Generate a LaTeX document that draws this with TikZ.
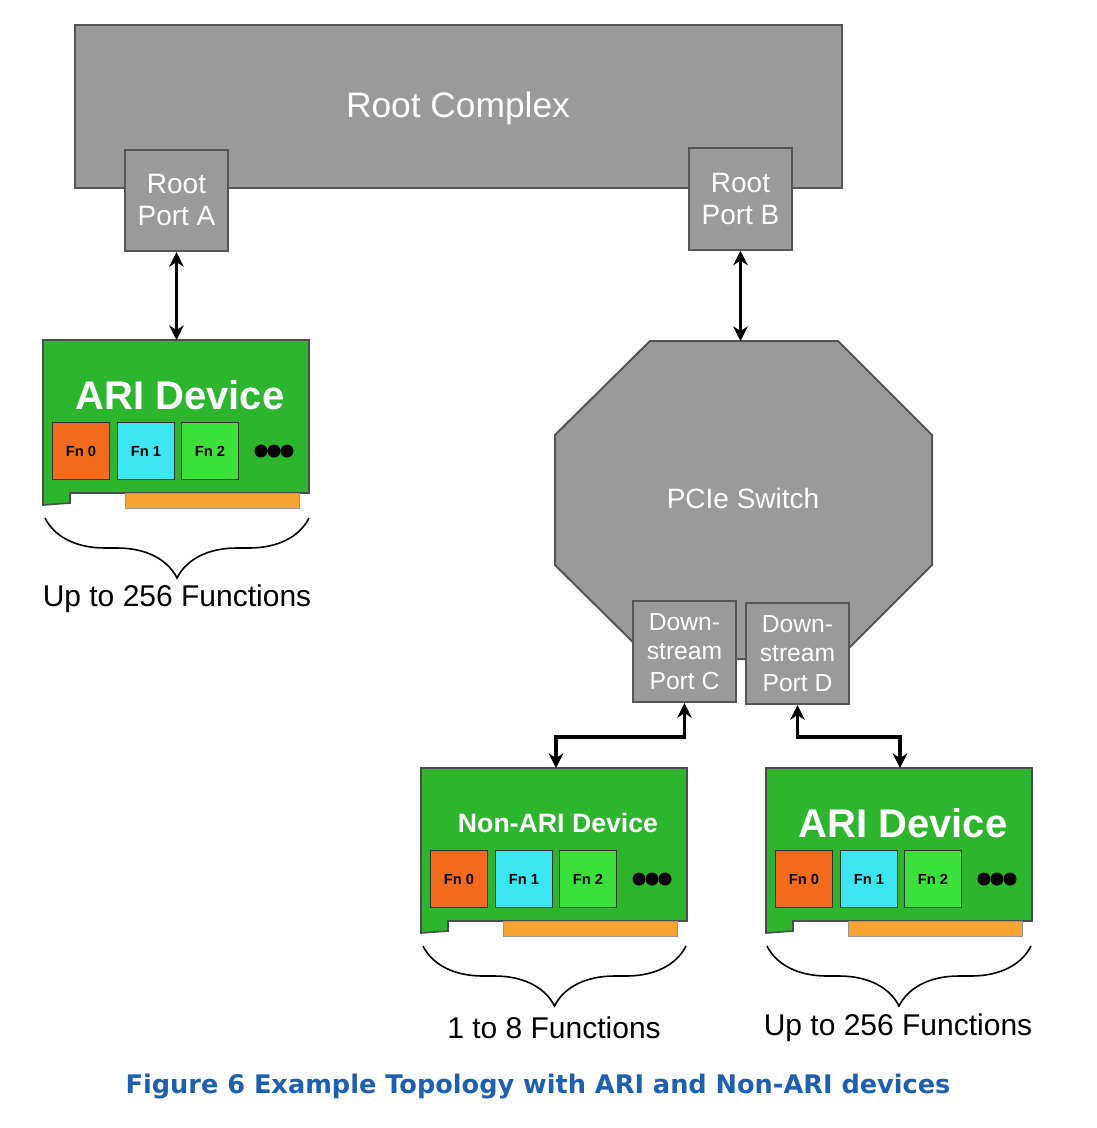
\documentclass[tikz,border=0pt]{standalone}
\usepackage{fontspec}
\setmainfont{Liberation Sans}
\newfontfamily\capfont{DejaVu Sans}
\usetikzlibrary{decorations.pathreplacing,arrows.meta}
\definecolor{gbox}{HTML}{9A9A9A}
\definecolor{gedge}{HTML}{555555}
\definecolor{cardg}{HTML}{2DB52D}
\definecolor{fno}{HTML}{F26A1B}
\definecolor{fnc}{HTML}{3CE6F0}
\definecolor{fng}{HTML}{3BE03B}
\definecolor{fing}{HTML}{F5A530}
\definecolor{capb}{HTML}{1F5FB0}
\tikzset{
 gray/.style={fill=gbox,draw=gedge,line width=1.5pt},
 port/.style={gray,minimum width=77pt,minimum height=76pt,inner sep=0pt,align=center,text=white,font=\fontsize{21}{24}\selectfont},
 fn/.style={draw=black!80,line width=1pt,minimum width=43pt,minimum height=43pt,inner sep=0pt,font=\bfseries\fontsize{11}{12}\selectfont},
 link/.style={line width=2.8pt,{Stealth[length=11pt,width=11pt]}-{Stealth[length=11pt,width=11pt]}},
 lbl/.style={font=\fontsize{22.5}{24}\selectfont},
 br/.style={decorate,decoration={brace,mirror,amplitude=45pt,aspect=0.5},line width=1.2pt}
}
\newcommand\mycard[5]{% name, x, y, title, title size
\begin{scope}[shift={(#2,#3)}]
\draw[fill=cardg,draw=black!70,line width=1.2pt] (0,0)--(266,0)--(266,153)--(27,153)--(27,163)--(0,165)--cycle;
\fill[fing,draw=black!40] (82,153) rectangle (256,168);
\node[coordinate] (#1) at (133,0) {};
\node[text=white,font=\bfseries\fontsize{#5}{#5}\selectfont] (#1t) at (137,55) {#4};
\node[fn,fill=fno] (#1f0) at (38,111) {Fn 0};
\node[fn,fill=fnc] (#1f1) at (103,111) {Fn 1};
\node[fn,fill=fng] (#1f2) at (167,111) {Fn 2};
\foreach \dx in {218,231,244} \fill (\dx,111) circle (6.5);
\end{scope}}
\begin{document}
\begin{tikzpicture}[x=0.75pt,y=-0.75pt]
\useasboundingbox (0,0) rectangle (1096,1128);
\node[gray,minimum width=575pt,minimum height=122pt,inner sep=0pt] (rc) at (458.5,106.5) {};
\node[text=white,font=\fontsize{26.5}{28}\selectfont] (rct) at (458,108) {Root Complex};
\node[port] (pa) at (176.5,200.5) {Root\\Port A};
\node[port] (pb) at (740.5,199) {Root\\Port B};
\draw[gray] (650,341)--(838,341)--(932,435)--(932,565)--(838,659)--(650,659)--(555,565)--(555,435)--cycle;
\node[coordinate] (sw) at (741,341) {};
\node[text=white,font=\fontsize{21}{22}\selectfont] (swt) at (743,498) {PCIe Switch};
\node[port,font=\fontsize{18.5}{22}\selectfont] (pc) at (684.5,651.5) {Down-\\stream\\Port C};
\node[port,font=\fontsize{18.5}{22}\selectfont] (pd) at (797.5,653.5) {Down-\\stream\\Port D};
\mycard{d1}{43}{340}{ARI Device}{30}
\mycard{d2}{421}{768}{Non-ARI Device}{20}
\mycard{d3}{766}{768}{ARI Device}{30}
\draw[link] (pa.south) -- (pa.south|-d1);
\draw[link] (pb.south) -- (pb.south|-sw);
\draw[link] (pc.south) |- (556,737) -- (556,768);
\draw[link] (pd.south) |- (900,737) -- (900,768);
\draw[br] (45,518) -- (309,518);
\draw[br] (423,946) -- (686,946);
\draw[br] (767,946) -- (1031,946);
\node[lbl] (l1) at (177,599) {Up to 256 Functions};
\node[lbl] (l2) at (554,1028) {1 to 8 Functions};
\node[lbl] (l3) at (898,1028) {Up to 256 Functions};
\node[text=capb,font=\capfont\bfseries\fontsize{19.2}{20}\selectfont] (cap) at (538,1087) {Figure 6 Example Topology with ARI and Non-ARI devices};
\end{tikzpicture}
\end{document}
